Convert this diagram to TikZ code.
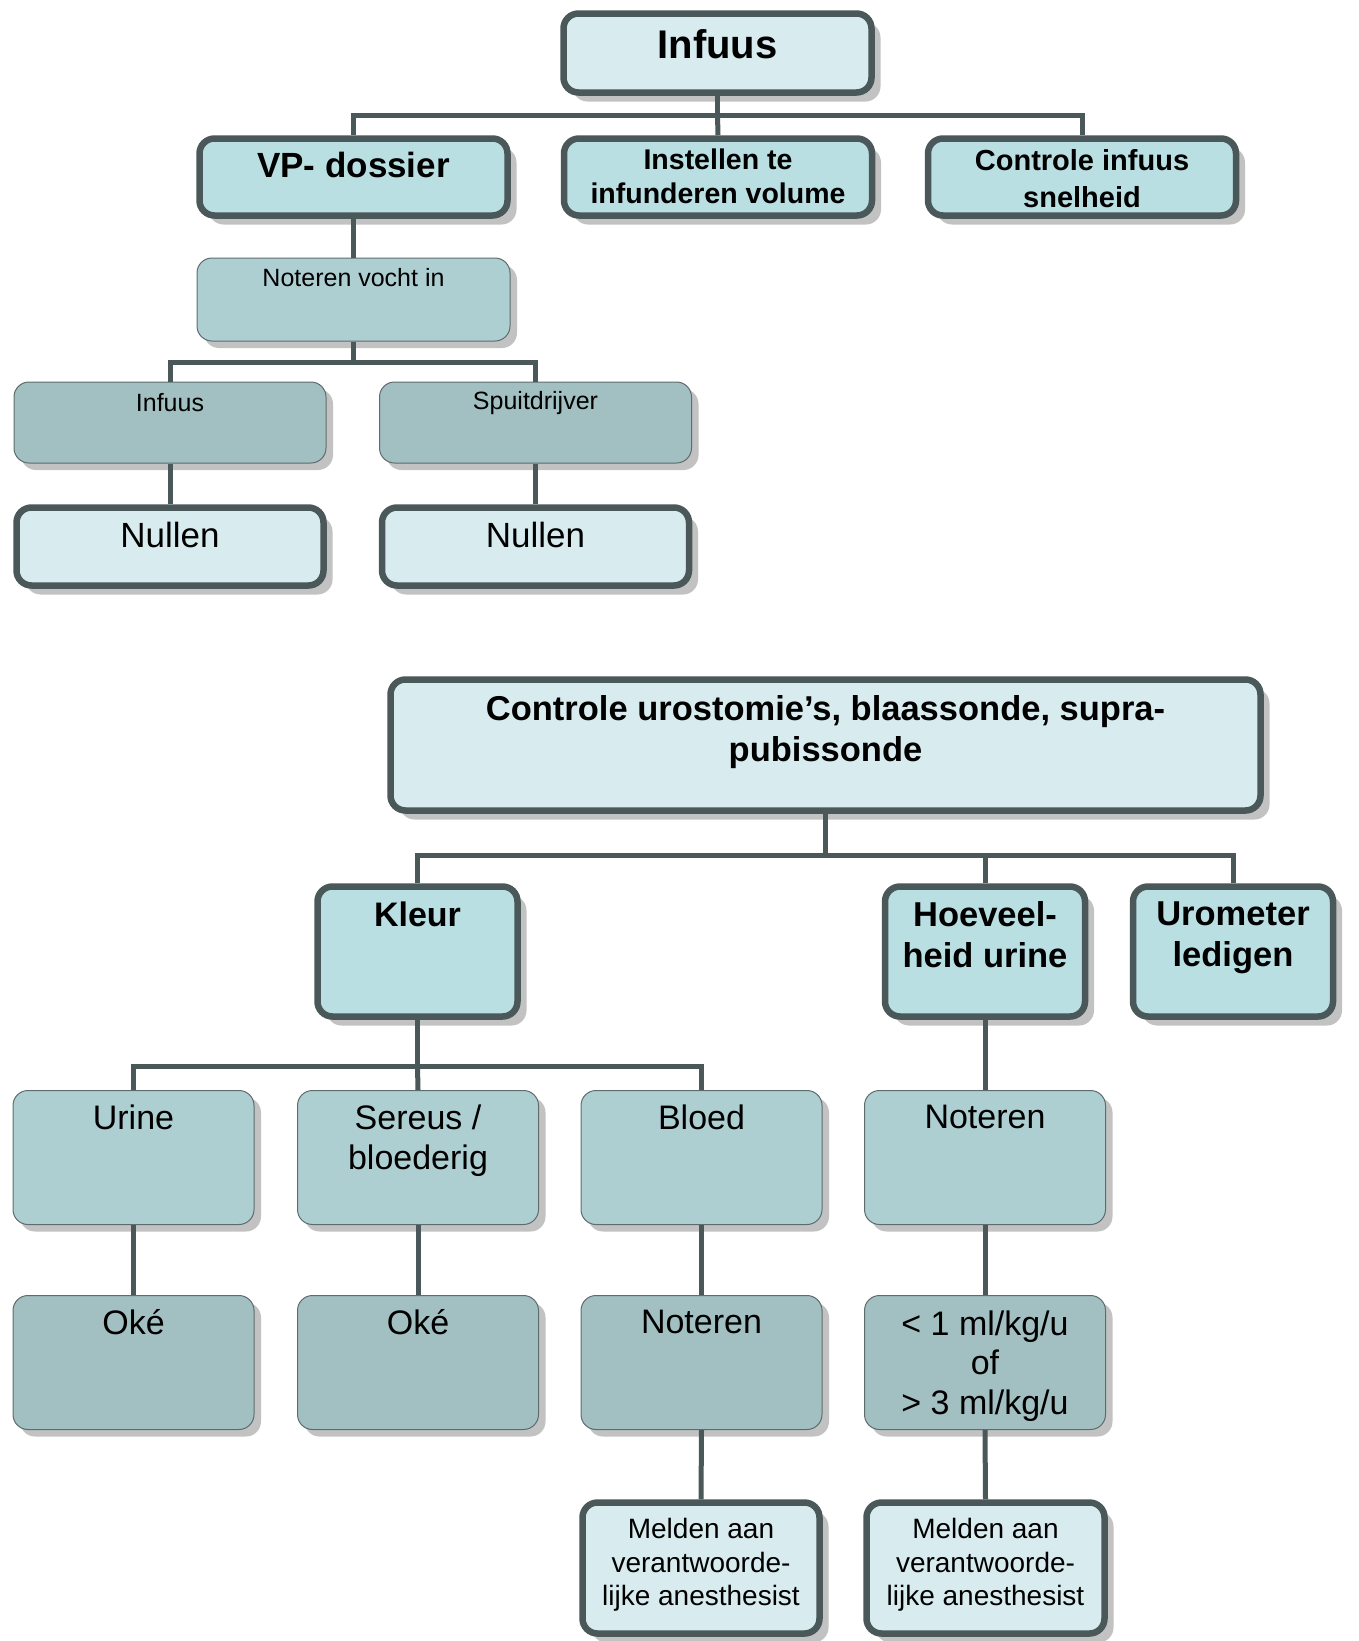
\documentclass[tikz,border=0pt]{standalone}
\usepackage{fontspec}
\setmainfont{Liberation Sans}
\usetikzlibrary{shadows}
\definecolor{edgec}{HTML}{4A5859}
\definecolor{thinedge}{HTML}{5E6C6D}
\definecolor{lightc}{HTML}{D8ECEF}
\definecolor{midc}{HTML}{B9DFE3}
\definecolor{tealc}{HTML}{AECFD2}
\definecolor{darkc}{HTML}{A2BFC1}
\definecolor{shadowc}{HTML}{C2C2C2}
\newcommand\fsz[2]{\fontsize{#1}{#2}\selectfont}
\tikzset{
  thickbox/.style={draw=edgec, line width=6.5pt, rounded corners=15pt, inner sep=0pt,
    drop shadow={shadow xshift=9pt, shadow yshift=-9pt, fill=shadowc, opacity=1}},
  thinbox/.style={draw=thinedge, line width=1pt, rounded corners=15pt, inner sep=0pt,
    drop shadow={shadow xshift=7pt, shadow yshift=-7pt, fill=shadowc, opacity=1}},
  conn/.style={draw=edgec, line width=5pt},
  lbl/.style={align=center, inner sep=0pt, text=black},
}
\begin{document}
\begin{tikzpicture}[x=1pt, y=-1pt]
\fill[white] (0,0) rectangle (1359,1641);
\useasboundingbox (0,0) rectangle (1359,1641);

% ---------- infusion tree ----------
\node[thickbox, fill=lightc, minimum width=308pt, minimum height=79pt] (infuus) at (717.5,53) {};
\node[thickbox, fill=midc, minimum width=308pt, minimum height=77pt] (vp) at (353.5,177) {};
\node[thickbox, fill=midc, minimum width=308pt, minimum height=77pt] (inst) at (718,177) {};
\node[thickbox, fill=midc, minimum width=308pt, minimum height=77pt] (ctrl) at (1082,177) {};
\node[thinbox, fill=tealc, minimum width=313pt, minimum height=83pt] (notv) at (353.5,299.5) {};
\node[thinbox, fill=darkc, minimum width=312pt, minimum height=81pt] (inf2) at (170,422.5) {};
\node[thinbox, fill=darkc, minimum width=312pt, minimum height=81pt] (spuit) at (535.5,422.5) {};
\node[thickbox, fill=lightc, minimum width=307pt, minimum height=78pt] (null1) at (170,546.5) {};
\node[thickbox, fill=lightc, minimum width=307pt, minimum height=78pt] (null2) at (535.5,546.5) {};

\node[lbl, font=\bfseries\fsz{40}{46}] (t-infuus) at (717.5,44) {Infuus};
\node[lbl, font=\bfseries\fsz{35}{40}] (t-vp) at (353.5,165) {VP- dossier};
\node[lbl, font=\bfseries\fsz{28.5}{33.5}] (t-inst) at (718,176.5) {Instellen te\\infunderen volume};
\node[lbl, font=\bfseries\fsz{29}{36.5}] (t-ctrl) at (1082,178.5) {Controle infuus\\snelheid};
\node[lbl, font=\fsz{25}{30}] (t-notv) at (353.5,278) {Noteren vocht in};
\node[lbl, font=\fsz{25}{30}] (t-inf2) at (170,403) {Infuus};
\node[lbl, font=\fsz{25}{30}] (t-spuit) at (535.5,403) {Spuitdrijver};
\node[lbl, font=\fsz{35}{40}] (t-null1) at (170,535) {Nullen};
\node[lbl, font=\fsz{35}{40}] (t-null2) at (535.5,535) {Nullen};

\coordinate (bus1) at (717.5,115);
\coordinate (bus2) at (353.5,362);
\draw[conn] (infuus.south) -- (bus1);
\draw[conn] (bus1) -| (vp.north);
\draw[conn] (bus1) -- (inst.north);
\draw[conn] (bus1) -| (ctrl.north);
\draw[conn] (vp.south) -- (notv.north);
\draw[conn] (notv.south) -- (bus2);
\draw[conn] (bus2) -| (inf2.north);
\draw[conn] (bus2) -| (spuit.north);
\draw[conn] (inf2.south) -- (null1.north);
\draw[conn] (spuit.south) -- (null2.north);

% ---------- urine drainage tree ----------
\node[thickbox, fill=lightc, minimum width=870pt, minimum height=131pt] (uro) at (825.5,745) {};
\node[thickbox, fill=midc, minimum width=200pt, minimum height=130pt] (kleur) at (417.5,951.5) {};
\node[thickbox, fill=midc, minimum width=200pt, minimum height=130pt] (hoev) at (985,951.5) {};
\node[thickbox, fill=midc, minimum width=200pt, minimum height=130pt] (urom) at (1233,951.5) {};
\node[thinbox, fill=tealc, minimum width=241pt, minimum height=134pt] (urine) at (133.5,1157.5) {};
\node[thinbox, fill=tealc, minimum width=241pt, minimum height=134pt] (sereus) at (418,1157.5) {};
\node[thinbox, fill=tealc, minimum width=241pt, minimum height=134pt] (bloed) at (701.5,1157.5) {};
\node[thinbox, fill=tealc, minimum width=241pt, minimum height=134pt] (not1) at (985,1157.5) {};
\node[thinbox, fill=darkc, minimum width=241pt, minimum height=134pt] (oke1) at (133.5,1362.5) {};
\node[thinbox, fill=darkc, minimum width=241pt, minimum height=134pt] (oke2) at (418,1362.5) {};
\node[thinbox, fill=darkc, minimum width=241pt, minimum height=134pt] (not2) at (701.5,1362.5) {};
\node[thinbox, fill=darkc, minimum width=241pt, minimum height=134pt] (ml) at (985,1362.5) {};
\node[thickbox, fill=lightc, minimum width=237pt, minimum height=131pt] (meld1) at (701,1568) {};
\node[thickbox, fill=lightc, minimum width=238pt, minimum height=131pt] (meld2) at (985.5,1568) {};

\node[lbl, font=\bfseries\fsz{34.5}{40.8}] (t-uro) at (825.5,732) {Controle urostomie’s, blaassonde, supra-\\pubissonde};
\node[lbl, font=\bfseries\fsz{34}{40}] (t-kleur) at (417.5,914) {Kleur};
\node[lbl, font=\bfseries\fsz{34.5}{41}] (t-hoev) at (985,935) {Hoeveel-\\heid urine};
\node[lbl, font=\bfseries\fsz{34.5}{41}] (t-urom) at (1233,938) {Urometer\\ledigen};
\node[lbl, font=\fsz{34}{40}] (t-urine) at (133.5,1117) {Urine};
\node[lbl, font=\fsz{34}{40}] (t-sereus) at (418,1141) {Sereus /\\bloederig};
\node[lbl, font=\fsz{34}{40}] (t-bloed) at (701.5,1117) {Bloed};
\node[lbl, font=\fsz{34}{40}] (t-not1) at (985,1117) {Noteren};
\node[lbl, font=\fsz{34}{40}] (t-oke1) at (133.5,1322) {Oké};
\node[lbl, font=\fsz{34}{40}] (t-oke2) at (418,1322) {Oké};
\node[lbl, font=\fsz{34}{40}] (t-not2) at (701.5,1322) {Noteren};
\node[lbl, font=\fsz{34}{39.8}] (t-ml) at (985,1366) {< 1 ml/kg/u\\of\\> 3 ml/kg/u};
\node[lbl, font=\fsz{28}{33.5}] (t-meld1) at (701,1565) {Melden aan\\verantwoorde-\\lijke anesthesist};
\node[lbl, font=\fsz{28}{33.5}] (t-meld2) at (985.5,1565) {Melden aan\\verantwoorde-\\lijke anesthesist};

\coordinate (bus3) at (825.5,855);
\coordinate (bus4) at (417.5,1066);
\draw[conn] (uro.south) -- (bus3);
\draw[conn] (bus3) -| (kleur.north);
\draw[conn] (bus3) -| (hoev.north);
\draw[conn] (bus3) -| (urom.north);
\draw[conn] (kleur.south) -- (bus4);
\draw[conn] (bus4) -| (urine.north);
\draw[conn] (bus4) -- (sereus.north);
\draw[conn] (bus4) -| (bloed.north);
\draw[conn] (hoev.south) -- (not1.north);
\draw[conn] (urine.south) -- (oke1.north);
\draw[conn] (sereus.south) -- (oke2.north);
\draw[conn] (bloed.south) -- (not2.north);
\draw[conn] (not1.south) -- (ml.north);
\draw[conn] (not2.south) -- (meld1.north);
\draw[conn] (ml.south) -- (meld2.north);
\end{tikzpicture}
\end{document}
